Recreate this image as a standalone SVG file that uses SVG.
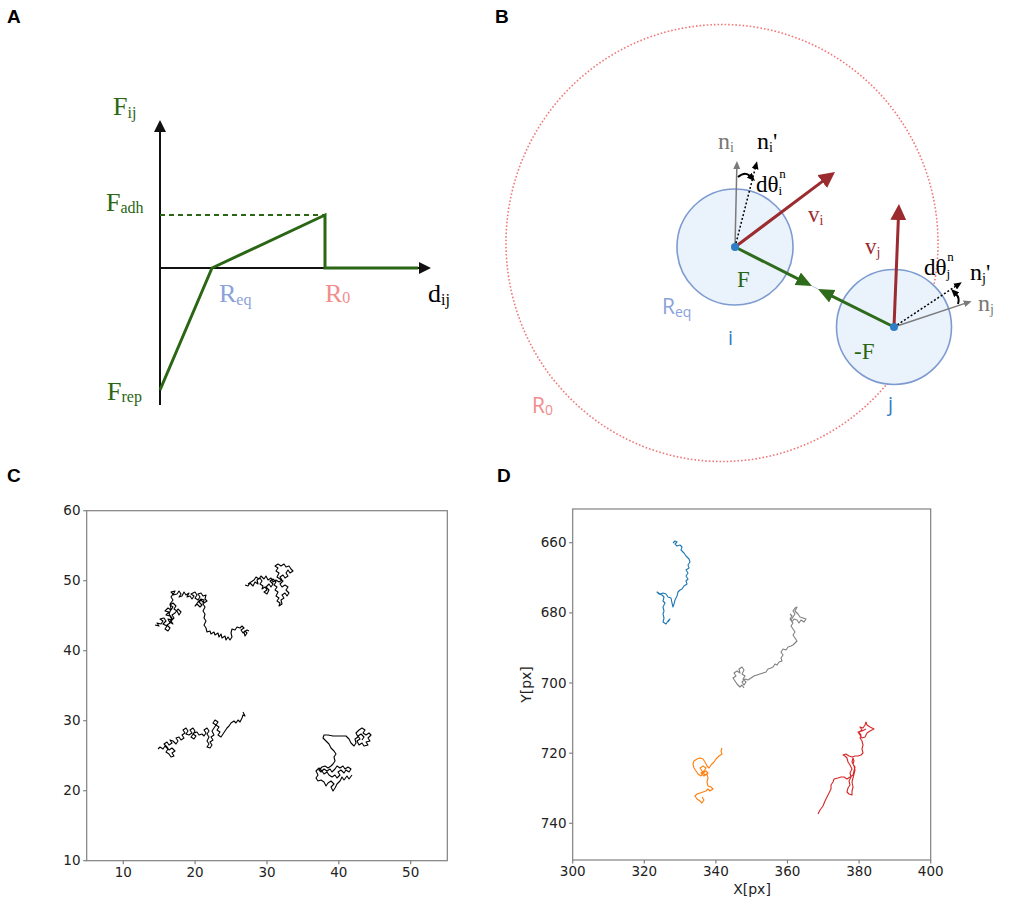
<svg xmlns="http://www.w3.org/2000/svg" width="1013" height="914" viewBox="0 0 1013 914">
<style>
.plab{font-family:"Liberation Sans",Arial,sans-serif;font-weight:bold;font-size:19px;fill:#000}
.ser{font-family:"Liberation Serif","Times New Roman",serif}
.sans{font-family:"Open Sans","Liberation Sans",sans-serif}
.tick{font-family:"DejaVu Sans",sans-serif;font-size:13.5px;fill:#222}
.axl{font-family:"DejaVu Sans",sans-serif;font-size:14px;fill:#222}
.green{fill:#2a6614}
.red{fill:#9b2b2f}
.cell{fill:#eaf2fc;stroke:#7e9bd0;stroke-width:1.6}
.dot{fill:#2f7dc4}
.spine{fill:none;stroke:#808080;stroke-width:1.2}
.tk{stroke:#808080;stroke-width:1.2}
.traj{fill:none;stroke-width:1.1;stroke-linejoin:round}
</style>
<defs>
<marker id="ahBlack" markerUnits="userSpaceOnUse" markerWidth="14" markerHeight="12" refX="2" refY="6" orient="auto"><path d="M0,0 L12,6 L0,12 z" fill="#111"/></marker>
<marker id="ahRed" markerUnits="userSpaceOnUse" markerWidth="18" markerHeight="16" refX="2" refY="8" orient="auto"><path d="M0,0 L16,8 L0,16 z" fill="#9b2b2f"/></marker>
<marker id="ahGreen" markerUnits="userSpaceOnUse" markerWidth="18" markerHeight="15" refX="2" refY="7" orient="auto"><path d="M0,0 L16,7 L0,14 z" fill="#2e6b1a"/></marker>
<marker id="ahGray" markerUnits="userSpaceOnUse" markerWidth="9" markerHeight="7" refX="1" refY="3.5" orient="auto"><path d="M0,0 L8,3.5 L0,7 z" fill="#7a7a7a"/></marker>
<marker id="ahSmall" markerUnits="userSpaceOnUse" markerWidth="9" markerHeight="7" refX="1" refY="3.5" orient="auto"><path d="M0,0 L8,3.5 L0,7 z" fill="#000"/></marker>
</defs>
<rect width="1013" height="914" fill="#fff"/>

<!-- Panel A -->
<g id="panelA">
<text class="plab" x="7" y="23">A</text>
<line x1="160" y1="405" x2="160" y2="130" stroke="#111" stroke-width="2" marker-end="url(#ahBlack)"/>
<line x1="160" y1="268" x2="421" y2="268" stroke="#111" stroke-width="2" marker-end="url(#ahBlack)"/>
<path d="M160,215 L325,215" fill="none" stroke="#2a6614" stroke-width="2" stroke-dasharray="5 4"/>
<path d="M160,390 L212,268 L325,215 L325,268 L418,268" fill="none" stroke="#2a6614" stroke-width="3"/>
<text class="ser green" x="113" y="115" font-size="26">F<tspan font-size="16" dy="3">ij</tspan></text>
<text class="ser green" x="106" y="211" font-size="26">F<tspan font-size="16" dy="2">adh</tspan></text>
<text class="ser green" x="107" y="400" font-size="26">F<tspan font-size="16" dy="2">rep</tspan></text>
<text class="ser" x="219" y="302" font-size="26" fill="#8aa2dc">R<tspan font-size="16" dy="3">eq</tspan></text>
<text class="ser" x="325" y="302" font-size="26" fill="#f28c8c">R<tspan font-size="16" dy="1">0</tspan></text>
<text class="ser" x="428" y="302" font-size="26" fill="#000">d<tspan font-size="16" dy="3">ij</tspan></text>
</g>

<!-- Panel B -->
<g id="panelB">
<text class="plab" x="495" y="23">B</text>
<ellipse cx="722" cy="243" rx="216" ry="218.5" fill="none" stroke="#f07878" stroke-width="1.6" stroke-dasharray="1.6 2"/>
<text class="sans" x="532" y="413" font-size="21" fill="#f28c8c">R<tspan font-size="14" dy="2">0</tspan></text>
<g id="cell-i">
<circle class="cell" cx="735" cy="247" r="58"/>
<text class="sans" x="662" y="314" font-size="21" fill="#8aa2dc">R<tspan font-size="14" dy="3">eq</tspan></text>
<text class="sans" x="728" y="345" font-size="20" fill="#2f7dc4">i</text>
</g>
<g id="cell-j">
<circle class="cell" cx="894" cy="327" r="57.5"/>
<text class="sans" x="888" y="411" font-size="20" fill="#2f7dc4">j</text>
</g>
<g id="connectors">
<line x1="812" y1="286" x2="818" y2="289" stroke="#b8c4d8" stroke-width="1"/>
<line x1="735" y1="247" x2="799.5" y2="279.7" stroke="#2e6b1a" stroke-width="3" marker-end="url(#ahGreen)"/>
<line x1="894" y1="327" x2="830.5" y2="295.3" stroke="#2e6b1a" stroke-width="3" marker-end="url(#ahGreen)"/>
<line x1="735" y1="247" x2="736.8" y2="168" stroke="#7a7a7a" stroke-width="1.5" marker-end="url(#ahGray)"/>
<line x1="735" y1="247" x2="755.3" y2="168" stroke="#000" stroke-width="1.5" stroke-dasharray="2 2" marker-end="url(#ahSmall)"/>
<line x1="894" y1="327" x2="965" y2="303.4" stroke="#7a7a7a" stroke-width="1.5" marker-end="url(#ahGray)"/>
<line x1="894" y1="327" x2="956" y2="286" stroke="#000" stroke-width="1.5" stroke-dasharray="2 2" marker-end="url(#ahSmall)"/>
<path d="M738,177 Q745,171 750,176" fill="none" stroke="#000" stroke-width="2" marker-end="url(#ahSmall)"/>
<path d="M958,304 Q960,298 956,294" fill="none" stroke="#000" stroke-width="2" marker-end="url(#ahSmall)"/>
<line x1="735" y1="247" x2="823.8" y2="180.4" stroke="#9b2b2f" stroke-width="3" marker-end="url(#ahRed)"/>
<line x1="894" y1="327" x2="898.4" y2="218" stroke="#9b2b2f" stroke-width="3" marker-end="url(#ahRed)"/>
</g>
<circle class="dot" cx="735" cy="247" r="4"/>
<circle class="dot" cx="894" cy="327" r="4"/>
<text class="ser" x="718" y="149" font-size="24" fill="#777">n<tspan font-size="14" dy="3">i</tspan></text>
<text class="ser" x="757" y="149" font-size="24" fill="#000">n<tspan font-size="14" dy="3">i</tspan><tspan dy="-3">'</tspan></text>
<text class="ser" x="756" y="192" font-size="23" fill="#000">dθ<tspan font-size="13" dy="3">i</tspan><tspan font-size="13" dx="-3" dy="-17">n</tspan></text>
<text class="ser red" x="808" y="222" font-size="23">v<tspan font-size="14" dy="3">i</tspan></text>
<text class="ser red" x="865" y="254" font-size="23">v<tspan font-size="14" dy="3">j</tspan></text>
<text class="ser green" x="737" y="287" font-size="23">F</text>
<text class="ser green" x="854" y="359" font-size="23">-F</text>
<text class="ser" x="924" y="275" font-size="23" fill="#000">dθ<tspan font-size="13" dy="3">j</tspan><tspan font-size="13" dx="-3" dy="-17">n</tspan></text>
<text class="ser" x="970" y="280" font-size="24" fill="#000">n<tspan font-size="14" dy="3">j</tspan><tspan dy="-3">'</tspan></text>
<text class="ser" x="978" y="311" font-size="24" fill="#777">n<tspan font-size="14" dy="3">j</tspan></text>
</g>

<!-- Panel C -->
<g id="panelC">
<text class="plab" x="7" y="482">C</text>
<rect class="spine" x="86.7" y="510.7" width="360.6" height="350"/>
<g class="tk">
<line x1="83.2" y1="510.7" x2="86.7" y2="510.7"/><line x1="83.2" y1="580.7" x2="86.7" y2="580.7"/><line x1="83.2" y1="650.7" x2="86.7" y2="650.7"/><line x1="83.2" y1="720.7" x2="86.7" y2="720.7"/><line x1="83.2" y1="790.7" x2="86.7" y2="790.7"/><line x1="83.2" y1="860.7" x2="86.7" y2="860.7"/>
<line x1="123.3" y1="860.7" x2="123.3" y2="864.2"/><line x1="195.1" y1="860.7" x2="195.1" y2="864.2"/><line x1="267" y1="860.7" x2="267" y2="864.2"/><line x1="338.8" y1="860.7" x2="338.8" y2="864.2"/><line x1="410.7" y1="860.7" x2="410.7" y2="864.2"/>
</g>
<g class="tick" text-anchor="end">
<text x="80.5" y="515.2">60</text><text x="80.5" y="585.2">50</text><text x="80.5" y="655.2">40</text><text x="80.5" y="725.2">30</text><text x="80.5" y="795.2">20</text><text x="80.5" y="865.2">10</text>
</g>
<g class="tick" text-anchor="middle">
<text x="123.3" y="877">10</text><text x="195.1" y="877">20</text><text x="267" y="877">30</text><text x="338.8" y="877">40</text><text x="410.7" y="877">50</text>
</g>
<g stroke="#000">
<polyline class="traj" points="155,625 159,626 157,623 161,624 163,621 160,619 164,618 166,621 163,624 167,626 165,629 168,631 170,628 167,625 170,623 168,619 172,620 170,616 166,615 169,612 165,611 168,608 171,610 173,607 170,605 173,603 176,606 174,609 177,611 179,615 181,612 178,609 175,613 172,615 174,618 171,621 173,624 170,622 172,618 169,614 171,609 170,604 173,600 171,597 173,594 171,592 175,591 173,595 177,594 179,591 181,594 179,597 182,596 184,592 186,595 189,593 187,597 190,596 192,599 194,596 191,594 195,592 197,595 195,598 198,600 200,597 198,594 201,593 203,596 206,595 205,599 207,601 204,603 201,600 199,602 202,605 200,607 197,604 195,606 198,602 201,599 204,600 203,604 205,607 203,611 205,614 204,618 206,621 204,625 206,628 207,632 210,631 211,634 214,632 215,635 218,633 219,637 221,634 222,638 225,636 226,640 228,637 230,640 232,637 231,633 232,629 235,630 237,627 240,628 242,626 244,628 241,630 243,633 245,631 247,633 245,636 244,632 247,630 249,631"/>
<polyline class="traj" points="245,585 248,586 250,583 253,586 255,582 258,584 257,580 260,578 262,581 260,584 263,586 262,589 265,587 267,590 264,592 267,594 269,590 266,587 269,584 271,587 273,584 270,581 273,579 276,582 274,585 277,587 275,590 278,592 276,596 279,598 277,601 280,603 279,606 282,604 281,600 284,598 282,595 285,593 287,596 289,593 286,590 288,587 285,585 282,587 280,584 283,581 280,579 277,577 279,573 276,571 278,568 275,566 278,564 281,566 284,564 286,567 289,566 291,569 293,571 290,573 288,570 286,573 288,576 285,578 283,575 280,577 282,580 279,582 276,580 273,582 271,578 268,580 266,576 264,579 261,576 259,579 256,577 254,580 251,582 248,584"/>
<polyline class="traj" points="158,749 160,747 163,749 165,746 168,749 166,752 169,754 171,757 174,756 172,753 175,751 172,748 169,750 167,747 164,744 167,742 169,745 172,743 170,740 173,741 176,744 178,741 176,738 179,737 181,740 184,738 182,735 185,733 183,730 186,728 188,731 186,734 189,735 192,733 190,730 193,728 195,731 193,734 196,736 194,739 191,737 194,733 197,732 199,735 202,734 204,736 206,733 204,730 207,728 209,731 207,734 209,737 207,741 209,744 207,747 210,748 212,745 210,742 213,740 211,737 214,735 212,731 214,728 216,725 213,723 215,720 218,722 216,725 219,727 217,730 220,732 218,735 221,737 223,734 225,731 227,728 229,726 231,723 234,721 236,723 238,720 240,722 242,718 243,715 245,716 243,712"/>
<polyline class="traj" points="352,775 349,779 347,776 344,780 342,777 340,781 337,784 335,788 333,791 331,787 334,784 331,781 328,783 326,786 324,782 321,780 318,781 316,778 318,775 316,771 319,768 322,771 324,774 327,772 329,775 332,777 335,775 337,778 340,775 338,772 341,770 344,773 346,770 349,772 351,769 348,767 345,769 343,766 340,768 337,766 335,769 332,772 330,769 327,771 324,769 321,772 319,770 322,767 325,766 328,768 331,766 333,764 335,761 334,757 336,754 334,751 331,748 329,744 326,741 323,738 324,735 328,735 333,736 338,736 342,736 346,736 349,739 351,743 354,746 356,743 355,739 358,737 356,733 359,730 362,728 365,730 363,733 366,735 369,733 371,735 368,738 370,741 366,742 368,745 364,746 362,743 359,745 357,741 360,739 358,736 361,734 364,737 362,740"/>
</g>
</g>

<!-- Panel D -->
<g id="panelD">
<text class="plab" x="497" y="482">D</text>
<rect class="spine" x="572.7" y="509" width="358" height="351"/>
<g class="tk">
<line x1="569.2" y1="542.7" x2="572.7" y2="542.7"/><line x1="569.2" y1="612.9" x2="572.7" y2="612.9"/><line x1="569.2" y1="683" x2="572.7" y2="683"/><line x1="569.2" y1="753.2" x2="572.7" y2="753.2"/><line x1="569.2" y1="823.3" x2="572.7" y2="823.3"/>
<line x1="572.7" y1="860" x2="572.7" y2="863.5"/><line x1="644.3" y1="860" x2="644.3" y2="863.5"/><line x1="715.9" y1="860" x2="715.9" y2="863.5"/><line x1="787.5" y1="860" x2="787.5" y2="863.5"/><line x1="859.1" y1="860" x2="859.1" y2="863.5"/><line x1="930.7" y1="860" x2="930.7" y2="863.5"/>
</g>
<g class="tick" text-anchor="end">
<text x="566.5" y="547.2">660</text><text x="566.5" y="617.4">680</text><text x="566.5" y="687.5">700</text><text x="566.5" y="757.7">720</text><text x="566.5" y="827.8">740</text>
</g>
<g class="tick" text-anchor="middle">
<text x="572.7" y="876">300</text><text x="644.3" y="876">320</text><text x="715.9" y="876">340</text><text x="787.5" y="876">360</text><text x="859.1" y="876">380</text><text x="930.7" y="876">400</text>
</g>
<text class="axl" x="752" y="894" text-anchor="middle">X[px]</text>
<text class="axl" x="0" y="0" text-anchor="middle" transform="translate(531,684.5) rotate(-90)">Y[px]</text>
<polyline class="traj" stroke="#1f77b4" points="673,543 675,541 677,542 675,544 677,546 680,545 682,547 681,550 684,553 686,556 689,559 690,562 688,565 689,568 686,570 688,573 686,576 688,579 686,581 687,584 684,586 682,589 680,590 678,592 677,596 675,600 674,604 673,607 672,603 671,598 668,597 666,594 663,593 660,594 657,592 659,594 662,595 664,597 663,601 665,603 663,607 664,611 663,614 664,618 663,622 666,624 668,621 670,619 668,622"/>
<polyline class="traj" stroke="#7f7f7f" points="744,688 742,685 740,687 737,684 735,681 733,678 736,676 734,673 737,671 740,673 739,669 742,667 744,670 742,674 745,676 743,679 746,682 744,685 742,682 745,679 748,680 751,678 754,676 757,675 760,674 763,673 766,672 768,669 771,668 773,667 775,664 777,665 779,662 782,661 781,658 783,655 781,652 783,649 786,650 788,647 791,646 793,645 795,643 797,641 795,638 793,635 795,632 793,629 791,626 793,623 791,620 793,617 795,614 793,611 795,608 797,607 795,611 798,614 800,617 803,618 806,619 804,622 801,620 799,623 797,620 794,619 792,622 790,619 792,616 790,614"/>
<polyline class="traj" stroke="#ff7f0e" points="722,748 721,751 722,754 719,756 716,759 714,762 711,765 709,768 707,766 705,762 703,759 700,758 697,759 694,761 693,764 694,768 696,771 698,774 701,776 703,773 706,771 708,773 705,775 702,771 700,768 703,766 706,768 704,771 701,773 704,776 707,774 708,778 707,782 708,786 711,787 713,789 710,791 708,789 706,791 703,792 700,793 697,794 695,796 697,799 700,801 702,803 704,800 702,797"/>
<polyline class="traj" stroke="#d62728" points="818,814 820,810 823,806 825,801 827,797 829,793 831,789 831,785 833,782 834,779 838,778 841,777 844,777 847,779 850,777 853,775 854,771 855,767 853,764 854,761 853,758 852,762 854,766 855,770 854,774 853,778 852,782 853,787 852,791 852,795 849,794 847,792 848,788 850,785 849,781 851,777 850,773 852,769 850,765 848,762 847,758 845,756 843,755 846,754 849,756 852,757 855,756 858,756 861,755 863,753 862,749 863,745 862,741 860,738 861,735 859,732 862,730 860,727 863,728 865,725 866,722 867,725 870,727 874,729 870,731 867,733 865,737 862,738 860,735 858,732 862,731 866,729"/>
</g>
</svg>
